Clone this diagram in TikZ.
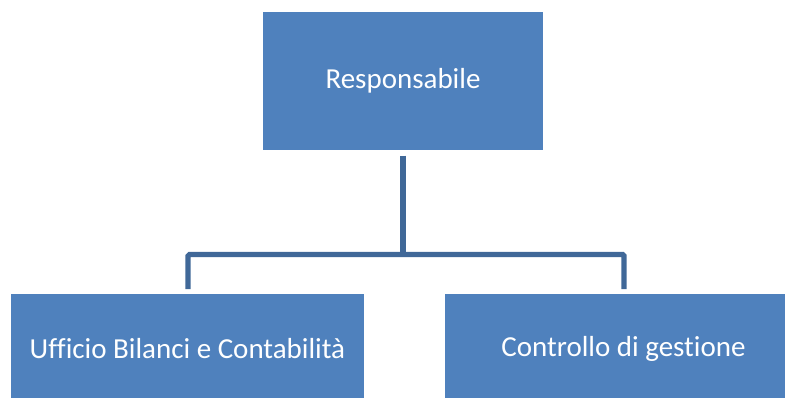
\documentclass[tikz,border=0pt]{standalone}
\usepackage{fontspec}
\setmainfont[Ligatures={NoCommon}]{Carlito}
\definecolor{boxfill}{RGB}{79,129,189}
\definecolor{connline}{RGB}{64,104,152}
\begin{document}
\begin{tikzpicture}[x=1pt,y=-1pt,
  orgbox/.style={fill=boxfill,draw=none,text=white,font=\fontsize{29}{33}\selectfont,inner sep=0pt,anchor=center},
  conn/.style={draw=connline,line width=5.3pt,rounded corners=1.5pt}]
\useasboundingbox (0,0) rectangle (792,398);
\clip (0,0) rectangle (792,398);
\node[orgbox,minimum width=280pt,minimum height=138pt] (top) at (403,81) {Responsabile};
\node[orgbox,minimum width=353pt,minimum height=110pt] (left) at (187.5,349) {Ufficio Bilanci e Contabilità};
\node[orgbox,minimum width=340pt,minimum height=110pt] (right) at (615,349) {\hspace*{17pt}Controllo di gestione};
\coordinate (mid) at (403,254.5);
\coordinate (lj) at (188,289);
\coordinate (rj) at (624,289);
\draw[conn] ([yshift=-5.5pt]top.south) -- (mid);
\draw[conn] (lj) |- (mid) -| (rj);
\end{tikzpicture}
\end{document}
